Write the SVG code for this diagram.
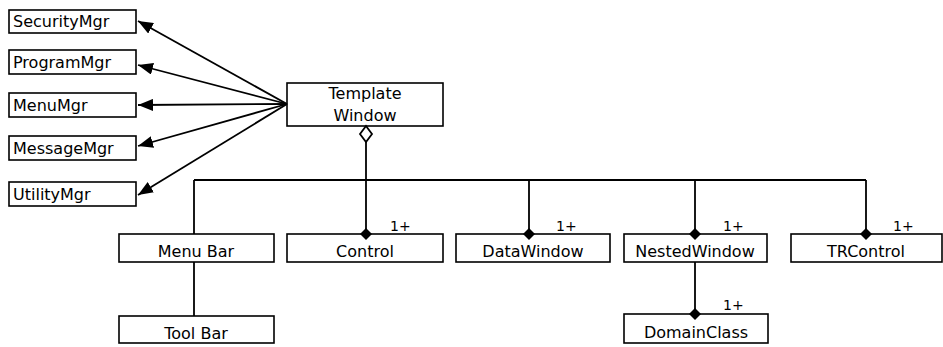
<svg xmlns="http://www.w3.org/2000/svg" width="943" height="347" viewBox="0 0 943 347">
<style>
.box{fill:#fff;stroke:#000;stroke-width:1.6}
.lbl{font-family:"DejaVu Sans",sans-serif;font-size:16px;fill:#000}
.c{text-anchor:middle}
.ln{stroke:#000;stroke-width:1.8;fill:none}
.m{font-family:"DejaVu Sans",sans-serif;font-size:14px;fill:#000}
</style>
<defs>
<marker id="arr" markerUnits="userSpaceOnUse" markerWidth="16" markerHeight="12" refX="15" refY="6" orient="auto">
<path d="M0,0 L15,6 L0,12 z" fill="#000"/>
</marker>
</defs>
<g id="SecurityMgr"><rect class="box" x="9" y="10" width="127" height="23"/><text class="lbl" x="13" y="27">SecurityMgr</text></g>
<g id="ProgramMgr"><rect class="box" x="9" y="50" width="127" height="24"/><text class="lbl" x="13" y="68">ProgramMgr</text></g>
<g id="MenuMgr"><rect class="box" x="9" y="93" width="127" height="24"/><text class="lbl" x="13" y="111">MenuMgr</text></g>
<g id="MessageMgr"><rect class="box" x="9" y="136" width="127" height="24"/><text class="lbl" x="13" y="154">MessageMgr</text></g>
<g id="UtilityMgr"><rect class="box" x="9" y="182" width="127" height="24"/><text class="lbl" x="13" y="200">UtilityMgr</text></g>
<g id="TemplateWindow"><rect class="box" x="287" y="83" width="156" height="43"/><text class="lbl c" x="365" y="99">Template</text><text class="lbl c" x="365" y="121">Window</text></g>
<g id="MenuBar"><rect class="box" x="119" y="234" width="155" height="28"/><text class="lbl c" x="196" y="257">Menu Bar</text></g>
<g id="ToolBar"><rect class="box" x="119" y="316" width="155" height="27"/><text class="lbl c" x="196" y="339">Tool Bar</text></g>
<g id="Control"><rect class="box" x="287" y="234" width="156" height="28"/><text class="lbl c" x="365" y="257">Control</text></g>
<g id="DataWindow"><rect class="box" x="456" y="234" width="154" height="28"/><text class="lbl c" x="533" y="257">DataWindow</text></g>
<g id="NestedWindow"><rect class="box" x="624" y="234" width="143" height="28"/><text class="lbl c" x="695" y="257">NestedWindow</text></g>
<g id="TRControl"><rect class="box" x="791" y="234" width="151" height="28"/><text class="lbl c" x="866" y="257">TRControl</text></g>
<g id="DomainClass"><rect class="box" x="624" y="314" width="144" height="29"/><text class="lbl c" x="696" y="338">DomainClass</text></g>
<g id="connectors">
<line class="ln" x1="287" y1="104" x2="138" y2="21" marker-end="url(#arr)"/>
<line class="ln" x1="287" y1="104" x2="138" y2="65" marker-end="url(#arr)"/>
<line class="ln" x1="287" y1="104" x2="138" y2="105" marker-end="url(#arr)"/>
<line class="ln" x1="287" y1="104" x2="138" y2="146" marker-end="url(#arr)"/>
<line class="ln" x1="287" y1="104" x2="138" y2="195" marker-end="url(#arr)"/>
<path class="ln" d="M366,126 L372,134 L366,142 L360,134 Z" style="fill:#fff"/>
<line class="ln" x1="366" y1="142" x2="366" y2="229"/>
<line class="ln" x1="194" y1="180" x2="866" y2="180"/>
<line class="ln" x1="194" y1="180" x2="194" y2="234"/>
<line class="ln" x1="194" y1="262" x2="194" y2="316"/>
<line class="ln" x1="529" y1="180" x2="529" y2="229"/>
<line class="ln" x1="695" y1="180" x2="695" y2="229"/>
<line class="ln" x1="866" y1="180" x2="866" y2="229"/>
<line class="ln" x1="695" y1="262" x2="695" y2="309"/>
<path d="M366,228 L372,234 L366,240 L360,234 Z" fill="#000"/>
<path d="M529,228 L535,234 L529,240 L523,234 Z" fill="#000"/>
<path d="M695,228 L701,234 L695,240 L689,234 Z" fill="#000"/>
<path d="M866,228 L872,234 L866,240 L860,234 Z" fill="#000"/>
<path d="M695,308 L701,314 L695,320 L689,314 Z" fill="#000"/>
<text class="m" x="390" y="231">1+</text>
<text class="m" x="556" y="231">1+</text>
<text class="m" x="723" y="231">1+</text>
<text class="m" x="893" y="231">1+</text>
<text class="m" x="723" y="310">1+</text>
</g>
</svg>
